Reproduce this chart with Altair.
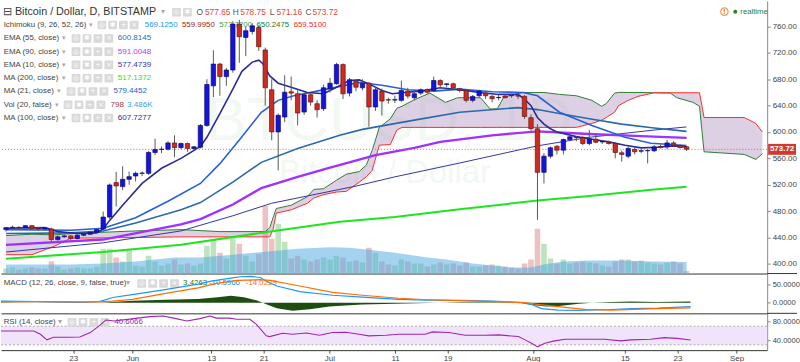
import altair as alt
import pandas as pd

FONT = "Liberation Sans"
W, H_MAIN, H_MACD, H_RSI = 770, 274, 40, 37

# ---------------- data ----------------
dates = pd.date_range("2016-05-12", "2016-08-25", freq="D")

opens = [452, 455, 455.5, 455, 458, 454, 453, 453, 437, 441,
         442.5, 438.5, 443.5, 445, 448, 452.8, 471, 523.3, 517.2, 528.3,
         533.3, 537.3, 537.3, 569, 573.5, 574, 583.5, 576.5, 582.5, 575,
         577, 610, 670, 703, 684, 694, 763.6, 743.4, 752.5, 758.5,
         724.4, 664, 600.2, 622.7, 661, 658, 630.3, 656.5, 642.9, 635.4,
         665.6, 673.1, 702.2, 659, 677, 667, 674, 638, 662, 649,
         648.5, 648, 662, 652, 659, 664, 663, 678, 672, 673,
         665.6, 663, 648, 655, 659, 654, 652, 654.5, 655.5, 655,
         654, 621.8, 605, 538.8, 563.4, 578.5, 572.5, 588.6, 592, 591.6,
         582.5, 589, 585, 584.5, 582.5, 568.5, 563.4, 573.5, 571, 571.5,
         571.5, 578, 577.5, 583.5, 579.5, 577.65]
highs = [456, 458, 457, 459, 459, 456, 456, 455, 443, 444,
         444, 445, 447, 450, 453, 479.4, 522, 539.7, 548, 540,
         540, 540, 571, 590, 578, 586, 595, 584, 584, 579,
         612, 680, 724, 705, 697, 768, 770, 760, 765, 762,
         728, 680, 628, 686, 684, 663, 660, 660, 648, 672,
         682, 705, 704, 682, 680, 680, 676, 668, 666, 652,
         655, 678, 667, 662, 666, 666, 684, 680, 674, 675,
         667, 665, 656, 664, 661, 656, 656, 657, 658, 657,
         656, 627, 612, 568, 578, 580, 590, 596, 594, 594,
         603, 598, 588, 587, 584, 572, 578, 577, 574, 574,
         580, 581, 588, 586, 581, 578.75]
lows = [449, 452, 453, 454, 452, 451, 451, 433, 435, 440,
        436, 437, 442, 444, 447, 451, 468, 487, 512, 520,
        525, 533, 535, 565, 568, 572, 562, 574, 570, 573,
        575, 608, 653, 655, 670, 690, 705, 715, 748, 723,
        640, 587.5, 542, 615, 648, 610, 626, 640, 622, 632,
        660, 672, 650, 654, 662, 663, 608, 632, 625, 643,
        644, 646, 651, 648, 656, 658, 661, 666, 668, 663,
        660, 645, 645, 653, 650, 645, 648, 651, 652, 650,
        620, 602, 466.8, 522, 560, 566, 566, 586, 586, 580,
        580, 583, 582, 581, 560, 555, 560, 566, 568, 552.4,
        570, 575, 574, 578, 575, 571.16]
closes = [455, 455.5, 455, 458, 454, 453, 454.5, 437, 441, 442.5,
          438.5, 443.5, 445, 448, 452, 471, 519.7, 518.2, 528.3, 532.3,
          537.3, 537.8, 569, 573.5, 574, 583.5, 576.5, 582.5, 575, 577.5,
          610, 672, 703, 684, 694, 763.6, 744.5, 753.5, 761, 729.4,
          667, 600.2, 625.3, 660.4, 659, 628.8, 656.5, 645.4, 633.8, 667.1,
          674, 702.2, 658, 679.2, 668, 674, 638, 664, 647, 648.5,
          649, 663, 654.5, 658, 664, 660.4, 678, 671.5, 673, 667,
          663, 648, 654, 662, 655, 650.5, 652.5, 652, 655, 654.5,
          623.7, 605, 538.8, 563.4, 576, 572.5, 588.6, 592.7, 591.3, 582.5,
          589.5, 584.5, 585.5, 582.5, 569, 566, 575, 570, 571.5, 572,
          577.5, 577, 583.5, 580, 576.5, 573.72]
volumes = [1500, 1800, 1200, 1500, 1800, 1500, 1500, 3700, 2100, 1200,
           1500, 1800, 1500, 1500, 2100, 7500, 7500, 4800, 3600, 7500,
           2400, 2100, 5400, 3600, 2400, 3000, 4200, 2700, 3000, 2400,
           3000, 8400, 10500, 6300, 4500, 11100, 9000, 5400, 3600, 6000,
           20400, 10500, 15000, 9600, 4500, 5400, 4200, 3600, 4200, 4800,
           4200, 5400, 4800, 3600, 3900, 3300, 7800, 6300, 3600, 2700,
           2400, 4200, 3600, 3000, 3000, 2100, 2700, 3300, 2700, 3000,
           2400, 3300, 2100, 2100, 2400, 2700, 2400, 2100, 1800, 1500,
           3000, 4200, 13500, 9000, 4500, 3000, 4200, 3000, 3300, 3600,
           3300, 3000, 2400, 2100, 3600, 4200, 4200, 3600, 3900, 3300,
           3000, 2700, 3300, 3600, 3000, 798]

# indicator lines (day index since 12 May 2016, value)
ema10_d = [0, 6, 8, 11, 14, 15, 16, 18, 21, 24, 27, 30, 31, 33, 35, 36.4, 38, 39, 39.6, 40.7,
           42, 44, 46.5, 49, 51, 53, 54.5, 56, 58, 59.6, 61.5, 64, 67, 70, 73, 76, 79, 80, 81, 82,
           83, 84, 85, 88, 90.4, 93, 95.5, 98, 100.5, 103, 105]
ema10_v = [454, 455, 449, 446, 447, 453, 466, 489, 522, 545, 560, 578, 592, 628, 665, 692, 706, 709, 704, 685,
           674, 668, 660, 658, 668, 678, 679, 673, 663, 658, 660, 662, 667, 664, 660, 657, 657, 650, 640, 622,
           612, 605, 600, 593, 589, 585, 580, 576, 577, 579, 577.5]
ma21_d = [0, 10, 15, 20, 25, 30, 33, 36, 39.4, 42, 44.4, 49.5, 54.5, 58, 62, 66, 70, 75, 79.8, 82,
          85.4, 90.4, 95.5, 99.5, 105]
ma21_v = [452, 451, 454, 470, 495, 522, 552, 588, 630, 648, 655, 665, 675, 671, 664, 662, 665, 661, 660, 655,
          630, 610, 592, 583, 579.5]
ema55_d = [0, 10, 15, 20, 27, 30, 35, 39.4, 45, 51.5, 55, 63, 70, 79, 82, 86, 90, 95, 100, 105]
ema55_v = [446, 447, 450, 462, 482, 493, 524, 554, 575, 595, 604, 618, 630, 637, 634, 627, 620, 612, 606, 601]
ema90_d = [0, 15, 27, 30, 35, 39.4, 45, 50, 54.5, 57, 63, 67, 75, 82, 90, 97, 105]
ema90_v = [429, 437, 460, 468, 490, 515, 532, 546, 558, 565, 576, 585, 595, 601, 597, 594, 591]
ma100_d = [0, 15, 27, 35, 41, 54, 60, 70, 82, 90, 100, 105]
ma100_v = [418, 432, 450, 473, 492, 518, 532, 553, 579, 592, 603, 607.7]
ma200_d = [0, 15, 27, 40, 51.5, 60, 70, 82, 90, 100, 105]
ma200_v = [408, 418, 429, 448, 464, 471, 483, 496, 503, 513, 517.1]

cloud_d = [0, 4, 7.5, 10, 20, 27, 33, 40, 40.7, 41.2, 41.7, 44, 46.5, 47.5, 49, 51, 52.5, 54.5, 55.6, 56.5,
           57.6, 59.3, 60.3, 61.1, 63, 65.4, 67.8, 69.7, 73.2, 74.7, 75.8, 76.8, 79.8, 83, 85.4, 88, 90.4,
           91.9, 92.6, 93.9, 94.5, 96, 97.5, 100, 102.5, 103.5, 106, 107, 107.7, 113.9, 115.7, 116.7]
span_a = [443, 445, 444, 446, 450, 452, 449, 449, 455, 470, 484, 489, 502, 513, 514, 527, 536, 540, 550, 572,
          607, 620, 636, 639, 649, 659, 645, 652, 652, 635, 635, 653, 660, 660, 657, 655, 648,
          639, 643, 659, 660, 660, 660, 659.5, 659, 652, 645, 639, 570, 566, 558.5, 567]
span_b = [414, 414, 427, 439, 440, 441, 441, 441, 441, 452, 477, 482, 492, 500, 505, 509, 510, 524, 532, 542,
          580, 581, 603, 607, 607, 607, 607, 607, 607, 607, 607, 607, 607, 607, 607, 607, 613,
          618, 622, 630, 640, 648, 654, 659.5, 659.5, 659.5, 659.5, 659.5, 622, 622, 613, 600]

volma_d = [0, 10, 15, 20, 26, 30, 35, 40, 45, 50, 53, 56, 60, 65, 68, 72, 75, 78, 81, 83, 86, 90, 95, 100, 105]
volma_v = [2700, 2700, 3000, 3600, 4800, 4800, 5700, 6600, 7500, 7950, 7800, 7200, 6300, 4800, 4200, 3000,
           2400, 1800, 1800, 2700, 3600, 3900, 3900, 3600, 3486]

macd_d = [0, 8, 12, 15, 17, 20, 25, 30, 32, 35, 36.4, 38, 39.5, 40.4, 42, 45.5, 50.5, 55, 60.6, 65, 70, 75,
          79.3, 81, 82.3, 84.8, 87.9, 92, 96, 100, 105]
macd_v = [4, 2, 1, 3, 14, 22, 35, 50, 58, 66, 70, 71, 68, 58, 45, 30, 20, 15, 9, 7, 6, 4,
          0, -6, -16, -20, -20.6, -19, -16, -14.5, -10.6]
signal_d = [0, 8, 12, 15, 17, 20, 25.3, 30, 32.8, 36, 39.4, 41, 45.5, 50.5, 55, 60.6, 65, 70.7, 75, 79.8,
            82, 84.8, 88.9, 93, 100, 105]
signal_v = [3, 3, 2, 2, 4, 9, 26, 40, 52, 60, 62, 60, 45, 28, 20, 12, 8, 5, 3, 0,
            -5, -10.7, -18, -19.8, -16, -14]
hist_d = [0, 8, 12, 15, 20, 25, 30, 33, 35, 37, 39, 40.5, 42, 44.4, 47, 50, 55, 60, 65, 70, 75, 79, 81, 83,
          85, 88, 90, 93, 96, 100, 105]
hist_v = [1, -1, -1, 0, 5, 8, 10, 15, 19, 15, 6, -5, -15, -22, -18, -10, -5, -3, -1, 1, 1, 0, -6, -10,
          -9, -3, 0, 2, 3, 2, 3.4]

rsi_d = [0, 5, 6, 7, 8, 10, 12, 13.6, 14.6, 16, 17.2, 20.2, 22.7, 24.7, 26.3, 28.3, 30.3, 31.8, 32.8, 34.8,
         35.9, 37.9, 38.9, 40.4, 40.9, 42.9, 44.4, 46.5, 48.5, 50.5, 52.5, 54.5, 56, 58.6, 60.6, 64.6, 65.7,
         68.2, 70.7, 73.7, 75.8, 78.8, 79.8, 80.8, 81.7, 82.8, 84.3, 85.9, 88.9, 91.9, 94.4, 95.9, 98.9, 101,
         103, 105]
rsi_v = [59.9, 59.9, 52.8, 40.7, 46.2, 46.2, 47, 56.4, 67, 83.3, 81.2, 86.4, 90.6, 92, 87.5, 81.2, 86.4, 92,
         87.5, 87.5, 85, 85, 74.2, 49.3, 47.8, 55, 52.8, 55.6, 50.7, 56.4, 57, 52.8, 49.3, 50.7, 52.8, 52.8,
         57.8, 56.4, 50.7, 50.7, 51.4, 47.8, 40.7, 33.6, 25.7, 33.6, 38.5, 42.1, 42.1, 42.1, 38.5, 40.7, 42.1,
         45.5, 44, 40.6]

ichimoku_last = [569.1250, 559.9950, 573.7200, 650.2475, 659.5100]
legend_values = {"ema55": 600.8145, "ema90": 591.0048, "ema10": 577.4739, "ma200": 517.1372,
                 "ma21": 579.4452, "vol": 798, "volma": "3.486K", "ma100": 607.7277}
macd_last = [3.4263, -10.5966, -14.0229]
rsi_last = 40.6066

tick_days = [11, 20, 32, 40, 50, 60, 68, 81, 95, 103, 112]
tick_labels = ["23", "Jun", "13", "21", "Jul", "11", "19", "Aug", "15", "23", "Sep"]
price_ticks = [400, 440, 480, 520, 560, 600, 640, 680, 720, 760]

X_DOMAIN = [0, 116.67]
PRICE_DOMAIN = [385.4, 798.8]
VOL_DOMAIN = [0, 82200]
MACD_DOMAIN = [-28.7, 78.6]
RSI_DOMAIN = [18.6, 97.75]

UP, DOWN = "#1414e0", "#cc2b22"
UP_S, DOWN_S = "#0b0b6e", "#6a140e"
VOL_UP, VOL_DOWN = "#95cf95", "#e09a9a"
RED_TXT = "#e0473c"

# ---------------- tables ----------------
cd = pd.DataFrame({"date": dates.strftime("%Y-%m-%d"), "open": opens, "high": highs, "low": lows,
                   "close": closes, "vol": volumes})
cd["d"] = (dates - dates[0]).days
is_up = [c >= o for o, c in zip(opens, closes)]
cd["body_col"] = [UP if u else DOWN for u in is_up]
cd["edge_col"] = [UP_S if u else DOWN_S for u in is_up]
cd["vol_col"] = [VOL_UP if u else VOL_DOWN for u in is_up]


def tbl(ds, vs):
    return pd.DataFrame({"d": ds, "v": vs})


# ---------------- encodings ----------------
xs = alt.Scale(domain=X_DOMAIN, nice=False, zero=False)
div_axis = alt.Axis(labels=False, ticks=False, grid=False, domain=True, domainColor="#333333", title=None)
label_expr = "".join(f"datum.value == {d} ? '{l}' : " for d, l in zip(tick_days, tick_labels)) + "''"
time_axis = alt.Axis(values=tick_days, labelExpr=label_expr, labelFontSize=8, labelColor="#444444",
                     labelFont=FONT, tickSize=3, tickColor="#555555", domainColor="#333333", grid=False,
                     title=None, labelPadding=1, labelFlush=False, labelOverlap=False)


def X(field="d", axis=div_axis):
    return alt.X(f"{field}:Q", scale=xs, axis=axis)


def yaxis(values, fmt, size):
    return alt.Axis(orient="right", values=values, format=fmt, labelFontSize=size, labelColor="#444444",
                    labelFont=FONT, tickSize=3, tickColor="#888888", domainColor="#888888", grid=False,
                    title=None, labelPadding=2, labelFlush=False, labelOverlap=False)


ps = alt.Scale(domain=PRICE_DOMAIN, nice=False, zero=False)
price_axis = yaxis(price_ticks, ".2f", 8)


def PY(f):
    return alt.Y(f"{f}:Q", scale=ps, axis=price_axis)


def pline(ds, vs, color, width):
    return alt.Chart(tbl(ds, vs)).mark_line(color=color, strokeWidth=width, clip=True).encode(
        x=X(), y=PY("v"))


# ---------------- main pane ----------------
cloud = pd.DataFrame({"d": cloud_d, "a": span_a, "b": span_b})
cloud_fill = alt.Chart(cloud).mark_area(color="#b497c4", opacity=0.45, clip=True).encode(
    x=X(), y=PY("a"), y2="b:Q")
lead_a = alt.Chart(cloud).mark_line(color="#2e7d32", strokeWidth=1, clip=True).encode(x=X(), y=PY("a"))
lead_b = alt.Chart(cloud).mark_line(color="#ff2a2a", strokeWidth=1, clip=True).encode(x=X(), y=PY("b"))

last = pd.DataFrame({"p": [closes[-1]], "top": [closes[-1] + 8.3], "bot": [closes[-1] - 8.3],
                     "txt": [f"{closes[-1]:.2f}"]})
price_rule = alt.Chart(last).mark_rule(color="#e06060", strokeDash=[1, 2], strokeWidth=1).encode(y=PY("p"))
price_box = alt.Chart(last).mark_rect(color="#d2382d").encode(
    x=alt.value(771), x2=alt.value(799), y=PY("top"), y2="bot:Q")
price_txt = alt.Chart(last).mark_text(color="white", fontSize=8, font=FONT, fontWeight="bold",
                                      align="center", baseline="middle").encode(
    x=alt.value(785), y=PY("p"), text="txt:N")

wicks = alt.Chart(cd).mark_rule(color="#5a5a5a", strokeWidth=1, clip=True).encode(
    x=X(), y=PY("low"), y2="high:Q")
bodies = alt.Chart(cd).mark_bar(size=4.4, strokeWidth=0.7, clip=True, orient="vertical").encode(
    x=X(), y=PY("open"), y2="close:Q",
    color=alt.Color("body_col:N", scale=None),
    stroke=alt.Stroke("edge_col:N", scale=None))

price_layer = alt.layer(
    cloud_fill, lead_a, lead_b,
    pline(ma200_d, ma200_v, "#1ee61e", 2),
    pline(ma100_d, ma100_v, "#3434a6", 1),
    pline(ema90_d, ema90_v, "#a030ff", 2.3),
    pline(ema55_d, ema55_v, "#2a6aa8", 1.6),
    pline(ma21_d, ma21_v, "#2860d8", 1.6),
    pline(ema10_d, ema10_v, "#2b2b99", 1.6),
    price_rule, wicks, bodies, price_box, price_txt)

vs = alt.Scale(domain=VOL_DOMAIN, nice=False, zero=True)
vol_bars = alt.Chart(cd).mark_bar(size=5.6, opacity=0.6, clip=True, orient="vertical").encode(
    x=X(), y=alt.Y("vol:Q", scale=vs, axis=None),
    color=alt.Color("vol_col:N", scale=None))
vol_ma = alt.Chart(tbl(volma_d, volma_v)).mark_area(color="#4aa8e6", opacity=0.5, clip=True).encode(
    x=X(), y=alt.Y("v:Q", scale=vs, axis=None))
vol_layer = alt.layer(vol_bars, vol_ma)

# header / legend texts (pixel positions)
R1, R2 = 11.5, 24.3
rows_y = [37.7, 51, 64.3, 77.7, 91, 104.3, 117.7]
header = [
    (2, R1, "⊟", "#444444", 11),
    (14, R1, "Bitcoin / Dollar, D, BITSTAMP", "#333333", 10.8),
    (161, R1, "▾", "#aaaaaa", 8),
    (196.5, R1, "O", "#555555", 8.4), (205, R1, f"{opens[-1]:.2f}", RED_TXT, 8.4),
    (233, R1, "H", "#555555", 8.4), (240.5, R1, f"{highs[-1]:.2f}", RED_TXT, 8.4),
    (270, R1, "L", "#555555", 8.4), (277, R1, f"{lows[-1]:.2f}", RED_TXT, 8.4),
    (306, R1, "C", "#555555", 8.4), (313, R1, f"{closes[-1]:.2f}", RED_TXT, 8.4),
    (2.7, R2, "Ichimoku (9, 26, 52, 26)", "#444444", 7.9), (88, R2, "▾", "#aaaaaa", 7),
]
ich_cols = ["#2196f3", "#9b1c1c", "#43a047", "#1e7b1e", "#ff2222"]
for i, (v, c) in enumerate(zip(ichimoku_last, ich_cols)):
    header.append((144.5 + 37.4 * i, R2, f"{v:.4f}", c, 7.9))
row_defs = [
    ("EMA (55, close)", 61.7, [(117.3, f"{legend_values['ema55']:.4f}", "#2f70b8")]),
    ("EMA (90, close)", 61.7, [(117.3, f"{legend_values['ema90']:.4f}", "#b23cfd")]),
    ("EMA (10, close)", 61.7, [(117.3, f"{legend_values['ema10']:.4f}", "#3838a8")]),
    ("MA (200, close)", 61, [(117.3, f"{legend_values['ma200']:.4f}", "#1ee61e")]),
    ("MA (21, close)", 56, [(113, f"{legend_values['ma21']:.4f}", "#2b5fd6")]),
    ("Vol (20, false)", 54, [(110, f"{legend_values['vol']}", "#a03c3c"),
                             (126.7, legend_values["volma"], "#3aa2f0")]),
    ("MA (100, close)", 61, [(117.3, f"{legend_values['ma100']:.4f}", "#2a2aa0")]),
]
box_rows = []
for (label, arrow_x, vals), yy in zip(row_defs, rows_y):
    header.append((2.7, yy, label, "#444444", 7.9))
    header.append((arrow_x, yy, "▾", "#aaaaaa", 7))
    for vx, vt, vc in vals:
        header.append((vx, yy, vt, vc, 8.1))
    start = {"MA (21, close)": 66, "Vol (20, false)": 63}.get(label, 71)
    for k in range(4):
        box_rows.append((start + 11 * k, yy, k))
for k in range(4):
    box_rows.append((97 + 10.8 * k, R2, k))
for k in range(2):
    box_rows.append((172 + 11 * k, R1, k))
header.append((743, 11, "realtime", "#2e7d32", 7.8))

hdr = pd.DataFrame(header, columns=["px", "py", "txt", "col", "fs"])
header_text = alt.Chart(hdr).mark_text(align="left", baseline="middle", font=FONT).encode(
    x=alt.X("px:Q", scale=None), y=alt.Y("py:Q", scale=None), text="txt:N",
    color=alt.Color("col:N", scale=None), size=alt.Size("fs:Q", scale=None))

glyph_chars = ["◎", "✱", "+", "×"]
bx = pd.DataFrame([{"x1": x0, "x2": x0 + 8.8, "y1": yc - 4.3, "y2": yc + 4.3, "xc": x0 + 4.4, "yc": yc,
                    "g": glyph_chars[k]} for x0, yc, k in box_rows])
boxes = alt.Chart(bx).mark_rect(color="#d9d9d9", cornerRadius=1).encode(
    x=alt.X("x1:Q", scale=None), x2="x2:Q", y=alt.Y("y1:Q", scale=None), y2="y2:Q")
glyphs = alt.Chart(bx).mark_text(color="white", fontSize=7, font="DejaVu Sans", align="center",
                                 baseline="middle").encode(
    x=alt.X("xc:Q", scale=None), y=alt.Y("yc:Q", scale=None), text="g:N")

wm = pd.DataFrame({"px": [390, 386], "py": [140, 183], "txt": ["BTCUSD, 1D", "Bitcoin / Dollar"],
                   "fs": [62, 33]})
watermark = alt.Chart(wm).mark_text(align="center", baseline="alphabetic", font=FONT, color="#4caf50",
                                    opacity=0.07).encode(
    x=alt.X("px:Q", scale=None), y=alt.Y("py:Q", scale=None), text="txt:N",
    size=alt.Size("fs:Q", scale=None))

rt = pd.DataFrame({"px": [727], "py": [10.8]})
rt_circle = alt.Chart(rt).mark_point(shape="circle", filled=False, color="#ff6d00", size=55,
                                     strokeWidth=1.2).encode(x=alt.X("px:Q", scale=None),
                                                             y=alt.Y("py:Q", scale=None))
rt_bang = alt.Chart(rt).mark_text(text="!", color="#ff6d00", fontSize=8, fontWeight="bold", font=FONT,
                                  align="center", baseline="middle").encode(
    x=alt.X("px:Q", scale=None), y=alt.Y("py:Q", scale=None))
rt_dot = alt.Chart(pd.DataFrame({"px": [738], "py": [11]})).mark_point(
    shape="circle", filled=True, color="#2e7d32", size=16, opacity=1).encode(
    x=alt.X("px:Q", scale=None), y=alt.Y("py:Q", scale=None))

main = alt.layer(watermark, header_text, boxes, glyphs, vol_layer, price_layer,
                 rt_circle, rt_bang, rt_dot).resolve_scale(y="independent").properties(
    width=W, height=H_MAIN)

one = pd.DataFrame({"z": [0]})
ext_rule = alt.Chart(one).mark_rule(color="#333333", strokeWidth=1).encode(
    x=alt.value(W), x2=alt.value(800), y=alt.value(0))

# ---------------- MACD pane ----------------
ms = alt.Scale(domain=MACD_DOMAIN, nice=False, zero=False)
macd_axis = yaxis([0, 50], ".4f", 7.6)


def MY(f):
    return alt.Y(f"{f}:Q", scale=ms, axis=macd_axis)


hist = alt.Chart(tbl(hist_d, hist_v)).mark_area(color="#1e4d12", clip=True).encode(
    x=X(), y=MY("v"), y2=alt.datum(0))
macd_line = alt.Chart(tbl(macd_d, macd_v)).mark_line(color="#2196f3", strokeWidth=1.2, clip=True).encode(
    x=X(), y=MY("v"))
signal_line = alt.Chart(tbl(signal_d, signal_v)).mark_line(color="#ff6d00", strokeWidth=1.2, clip=True).encode(
    x=X(), y=MY("v"))
macd_hdr = pd.DataFrame([
    (2.7, 10, "MACD (12, 26, close, 9, false, true)", "#444444"),
    (126, 10, "▾", "#aaaaaa"),
    (183, 10, f"{macd_last[0]:.4f}", "#1e7b1e"),
    (209, 10, f"{macd_last[1]:.4f}", "#2196f3"),
    (246, 10, f"{macd_last[2]:.4f}", "#ff6d00"),
], columns=["px", "py", "txt", "col"])
macd_text = alt.Chart(macd_hdr).mark_text(align="left", baseline="middle", font=FONT, fontSize=7.9).encode(
    x=alt.X("px:Q", scale=None), y=alt.Y("py:Q", scale=None), text="txt:N",
    color=alt.Color("col:N", scale=None))
macd_boxes_df = pd.DataFrame([{"x1": 137 + 11 * k, "x2": 145.8 + 11 * k, "y1": 5.7, "y2": 14.3,
                               "xc": 141.4 + 11 * k, "yc": 10, "g": glyph_chars[k]} for k in range(4)])
macd_boxes = alt.Chart(macd_boxes_df).mark_rect(color="#d9d9d9", cornerRadius=1).encode(
    x=alt.X("x1:Q", scale=None), x2="x2:Q", y=alt.Y("y1:Q", scale=None), y2="y2:Q")
macd_glyphs = alt.Chart(macd_boxes_df).mark_text(color="white", fontSize=7, font="DejaVu Sans",
                                                 align="center", baseline="middle").encode(
    x=alt.X("xc:Q", scale=None), y=alt.Y("yc:Q", scale=None), text="g:N")
macd = alt.layer(macd_text, macd_boxes, macd_glyphs, hist, macd_line, signal_line, ext_rule).properties(
    width=W, height=H_MACD)

# ---------------- RSI pane ----------------
rs = alt.Scale(domain=RSI_DOMAIN, nice=False, zero=False)
rsi_axis = yaxis([40, 80], ".4f", 7.6)


def RY(f):
    return alt.Y(f"{f}:Q", scale=rs, axis=rsi_axis)


band = alt.Chart(pd.DataFrame({"x0": [X_DOMAIN[0]], "x1": [X_DOMAIN[1]], "hi": [70], "lo": [30]})).mark_rect(
    color="#f1e4fa").encode(x=X("x0", time_axis), x2="x1:Q", y=RY("hi"), y2="lo:Q")
guides = alt.Chart(pd.DataFrame({"v": [70, 30]})).mark_rule(color="#aaaaaa", strokeDash=[2, 2]).encode(
    y=RY("v"))
rsi_line = alt.Chart(tbl(rsi_d, rsi_v)).mark_line(color="#9c27b0", strokeWidth=1.1, clip=True).encode(
    x=X(axis=time_axis), y=RY("v"))
rsi_hdr = pd.DataFrame([
    (2.7, 9, "RSI (14, close)", "#444444"),
    (57, 9, "▾", "#aaaaaa"),
    (114, 9, f"{rsi_last:.4f}", "#9c27b0"),
], columns=["px", "py", "txt", "col"])
rsi_text = alt.Chart(rsi_hdr).mark_text(align="left", baseline="middle", font=FONT, fontSize=7.9).encode(
    x=alt.X("px:Q", scale=None), y=alt.Y("py:Q", scale=None), text="txt:N",
    color=alt.Color("col:N", scale=None))
rsi_boxes_df = pd.DataFrame([{"x1": 67 + 11 * k, "x2": 75.8 + 11 * k, "y1": 4.7, "y2": 13.3,
                              "xc": 71.4 + 11 * k, "yc": 9, "g": glyph_chars[k]} for k in range(4)])
rsi_boxes = alt.Chart(rsi_boxes_df).mark_rect(color="#d9d9d9", cornerRadius=1).encode(
    x=alt.X("x1:Q", scale=None), x2="x2:Q", y=alt.Y("y1:Q", scale=None), y2="y2:Q")
rsi_glyphs = alt.Chart(rsi_boxes_df).mark_text(color="white", fontSize=7, font="DejaVu Sans",
                                               align="center", baseline="middle").encode(
    x=alt.X("xc:Q", scale=None), y=alt.Y("yc:Q", scale=None), text="g:N")
rsi = alt.layer(band, guides, rsi_text, rsi_boxes, rsi_glyphs, rsi_line, ext_rule).properties(
    width=W, height=H_RSI)

chart = alt.vconcat(main, macd, rsi).properties(spacing=0, bounds="flush", padding=0).configure_view(
    stroke=None)

chart.save("out.html", embed_options={"renderer": "svg", "actions": False})
